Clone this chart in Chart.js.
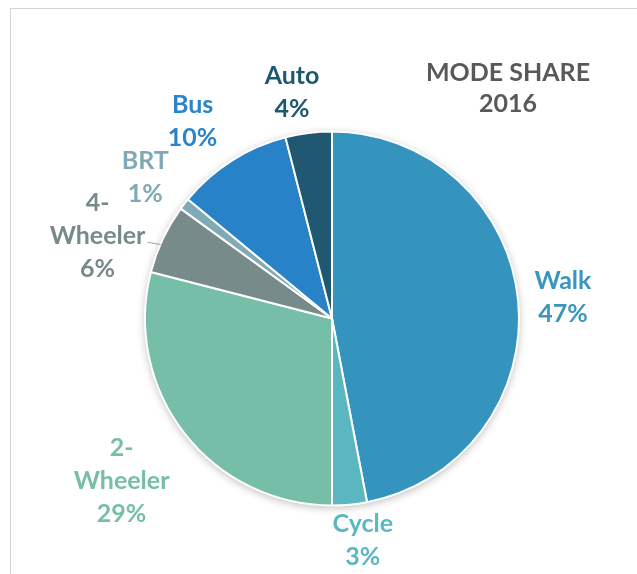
<!DOCTYPE html>
<html>
<head>
<meta charset="utf-8">
<script src="https://cdn.jsdelivr.net/npm/chart.js@4.4.1/dist/chart.umd.min.js"></script>
<style>
  html, body { margin: 0; padding: 0; background: #ffffff; }
  #wrap { position: relative; width: 637px; height: 574px; overflow: hidden; }
  #frame { position: absolute; left: 10px; top: 8px; width: 700px; height: 700px;
           border-left: 1.5px solid #d4d4d4; border-top: 1.5px solid #d4d4d4; }
  canvas { position: absolute; left: 0; top: 0; }
</style>
</head>
<body>
<div id="wrap">
  <div id="frame"></div>
  <canvas id="c" width="637" height="574"></canvas>
</div>
<script>
// ---- data ----
const categories = ["Walk", "Cycle", "2-Wheeler", "4-Wheeler", "BRT", "Bus", "Auto"];
const labelLines = [["Walk"], ["Cycle"], ["2-", "Wheeler"], ["4-", "Wheeler"], ["BRT"], ["Bus"], ["Auto"]];
const shares = [47, 3, 29, 6, 1, 10, 4];
const titleLines = ["MODE SHARE", "2016"];

// ---- styles ----
const sliceColors = ["#3594bd", "#5ab6c0", "#77bea8", "#788b8b", "#80aab5", "#2882c8", "#1f5870"];
const textColors  = ["#3a96be", "#5bb7c0", "#77bea8", "#778a8a", "#80a9b5", "#2a84c9", "#1e5870"];
// radial distance (as multiple of radius) and angular adjust (deg) for each label
const labelDist   = [1.24, 1.2, 1.42, 1.33, 1.25, 1.29, 1.23];
const labelAngAdj = [0.2, -2.5, 0.2, -5.7, -0.8, -2.9, -2.8];

const FONT = "bold 25px Lato, 'Open Sans', sans-serif";
const LINE_H = 33;

const shadowPlugin = {
  id: 'shadow',
  beforeDatasetDraw(chart) {
    const ctx = chart.ctx;
    ctx.save();
    ctx.shadowColor = 'rgba(0,0,0,0.28)';
    ctx.shadowBlur = 9;
    ctx.shadowOffsetX = 0;
    ctx.shadowOffsetY = 2;
    const arc = chart.getDatasetMeta(0).data[0];
    ctx.beginPath();
    ctx.arc(arc.x, arc.y, arc.outerRadius, 0, Math.PI * 2);
    ctx.fillStyle = '#ffffff';
    ctx.fill();
    ctx.restore();
  }
};

const labelPlugin = {
  id: 'pieLabels',
  afterDatasetsDraw(chart) {
    const ctx = chart.ctx;
    const meta = chart.getDatasetMeta(0);
    ctx.save();
    ctx.font = FONT;
    ctx.textAlign = 'center';
    ctx.textBaseline = 'middle';
    meta.data.forEach((arc, i) => {
      const mid = (arc.startAngle + arc.endAngle) / 2 + labelAngAdj[i] * Math.PI / 180;
      const r = arc.outerRadius * labelDist[i];
      const cx = arc.x + Math.cos(mid) * r;
      const cy = arc.y + Math.sin(mid) * r;
      const lines = labelLines[i].concat([shares[i] + "%"]);
      const top = cy - (lines.length - 1) * LINE_H / 2;
      ctx.fillStyle = textColors[i];
      lines.forEach((ln, k) => ctx.fillText(ln, cx, top + k * LINE_H));
      if (i === 3) {
        // leader line from label to slice edge
        const ex = arc.x + Math.cos(mid + 5.7 * Math.PI / 180) * arc.outerRadius * 1.0;
        ctx.strokeStyle = '#a6a6a6';
        ctx.lineWidth = 1.2;
        ctx.beginPath();
        ctx.moveTo(cx + 50, cy + 7);
        ctx.lineTo(ex - 14, cy + 7);
        ctx.lineTo(ex - 2, cy + 9);
        ctx.stroke();
      }
    });
    // title
    const a0 = meta.data[0];
    ctx.fillStyle = '#595959';
    titleLines.forEach((t, k) => ctx.fillText(t, a0.x + 176, a0.y - 246 + k * 31));
    ctx.restore();
  }
};

new Chart(document.getElementById('c'), {
  type: 'pie',
  data: {
    labels: categories,
    datasets: [{
      data: shares,
      backgroundColor: sliceColors,
      borderColor: '#ffffff',
      borderWidth: 2
    }]
  },
  options: {
    responsive: false,
    animation: false,
    rotation: 0,
    layout: { padding: { left: 144, right: 117, top: 130, bottom: 67 } },
    plugins: { legend: { display: false }, tooltip: { enabled: false }, title: { display: false } }
  },
  plugins: [shadowPlugin, labelPlugin]
});
</script>
</body>
</html>
